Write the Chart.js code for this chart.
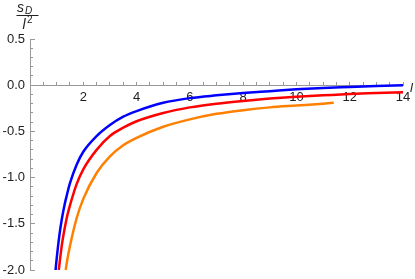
<!DOCTYPE html>
<html>
<head>
<meta charset="utf-8">
<script src="https://cdn.jsdelivr.net/npm/chart.js@4.4.1/dist/chart.umd.min.js"></script>
<style>
    body { margin: 0; background: #fff; overflow: hidden; }
    canvas { display: block; }
</style>
</head>
<body>
<canvas id="plot" width="415" height="279"></canvas>
<script>
    // curves: l on x, s_D / l^2 on y
    var lBlue = [0.96, 1.0, 1.1, 1.2, 1.3, 1.4, 1.5, 1.75, 2, 2.5, 3, 3.5, 4, 5, 6, 7, 8, 9, 10, 11, 12, 13, 14];
    var sBlue = [-2.0, -1.88, -1.63, -1.44, -1.29, -1.17, -1.06, -0.86, -0.72, -0.55, -0.43, -0.34, -0.28, -0.19, -0.14, -0.11, -0.085, -0.065, -0.045, -0.03, -0.02, -0.01, 0.0];

    var lRed = [1.08, 1.1, 1.2, 1.3, 1.4, 1.5, 1.75, 2, 2.5, 3, 3.5, 4, 5, 6, 7, 8, 9, 10, 11, 12, 13, 14];
    var sRed = [-2.0, -1.95, -1.72, -1.55, -1.41, -1.30, -1.07, -0.91, -0.70, -0.55, -0.46, -0.39, -0.30, -0.24, -0.20, -0.17, -0.145, -0.125, -0.11, -0.095, -0.085, -0.075];

    var lOrange = [1.34, 1.4, 1.5, 1.75, 2, 2.5, 3, 3.5, 4, 5, 6, 7, 8, 9, 10, 11, 11.4];
    var sOrange = [-2.0, -1.89, -1.74, -1.44, -1.23, -0.95, -0.77, -0.65, -0.57, -0.45, -0.37, -0.31, -0.27, -0.24, -0.22, -0.20, -0.19];

    var xRange = [0, 14];
    var yRange = [-2, 0.5];
    var xStep = 2, xMinorStep = 0.5;
    var yStep = 0.5, yMinorStep = 0.1;

    var axisGray = '#999';
    var textColor = '#222';
    var tickFont = { family: 'Liberation Sans', size: 13 };

    function pts(ls, ss) {
        return ls.map(function (l, i) { return { x: l, y: ss[i] }; });
    }

    function curve(label, ls, ss, color) {
        return {
            label: label,
            data: pts(ls, ss),
            borderColor: color,
            borderWidth: 2.5,
            pointRadius: 0,
            showLine: true,
            fill: false,
            cubicInterpolationMode: 'monotone'
        };
    }

    // keep tick-label padding from shrinking the plot area
    function noPad(s) {
        s.paddingTop = 0; s.paddingBottom = 0; s.paddingLeft = 0; s.paddingRight = 0;
    }

    // the fraction s_D / l^2 at the top and the italic l at the end of the x axis
    var axisLabels = {
        id: 'axisLabels',
        afterDraw: function (chart) {
            var ctx = chart.ctx;
            ctx.save();
            ctx.fillStyle = textColor;
            ctx.textBaseline = 'alphabetic';
            ctx.textAlign = 'left';
            ctx.font = 'italic 14px "Liberation Sans"';
            ctx.fillText('s', 17, 11.5);
            ctx.font = 'italic 10px "Liberation Sans"';
            ctx.fillText('D', 25, 13.5);
            ctx.strokeStyle = textColor;
            ctx.lineWidth = 1;
            ctx.beginPath();
            ctx.moveTo(16.5, 15.5);
            ctx.lineTo(38.5, 15.5);
            ctx.stroke();
            ctx.font = 'italic 14px "Liberation Sans"';
            ctx.fillText('l', 22.5, 29);
            ctx.font = '10px "Liberation Sans"';
            ctx.fillText('2', 27, 23);
            ctx.font = 'italic 13px "Liberation Sans"';
            ctx.fillText('l', chart.chartArea.right + 7, 91.5);
            ctx.restore();
        }
    };

    new Chart(document.getElementById('plot'), {
        type: 'scatter',
        data: {
            datasets: [
                curve('blue', lBlue, sBlue, 'rgb(0, 0, 255)'),
                curve('red', lRed, sRed, 'rgb(255, 0, 0)'),
                curve('orange', lOrange, sOrange, 'rgb(255, 128, 0)')
            ]
        },
        options: {
            responsive: false,
            animation: false,
            layout: { padding: { left: 0, right: 12, top: 39, bottom: 9 } },
            plugins: { legend: { display: false }, tooltip: { enabled: false } },
            scales: {
                x: {
                    type: 'linear', min: xRange[0], max: xRange[1], position: { y: 0 },
                    afterFit: function (s) { s.height = 0; noPad(s); },
                    grid: { drawOnChartArea: false, drawTicks: true, tickLength: -4, tickColor: axisGray },
                    border: { color: axisGray, width: 1 },
                    ticks: {
                        stepSize: xStep, padding: 8, color: textColor, font: tickFont,
                        maxRotation: 0, autoSkip: false,
                        callback: function (v) { return v === 0 ? '' : v; }
                    }
                },
                xMinor: {
                    type: 'linear', min: xRange[0], max: xRange[1], position: { y: 0 },
                    afterFit: function (s) { s.height = 0; noPad(s); },
                    grid: { drawOnChartArea: false, drawTicks: true, tickLength: -3, tickColor: axisGray },
                    border: { display: false },
                    ticks: { stepSize: xMinorStep, display: false, maxTicksLimit: 200 }
                },
                y: {
                    type: 'linear', min: yRange[0], max: yRange[1], position: 'left',
                    afterFit: function (s) { s.width = 30; noPad(s); },
                    grid: { drawOnChartArea: false, drawTicks: true, tickLength: -5, tickColor: axisGray },
                    border: { color: axisGray, width: 1 },
                    ticks: {
                        stepSize: yStep, padding: 10, color: textColor, font: tickFont,
                        callback: function (v) { return v.toFixed(1); }
                    }
                },
                yMinor: {
                    type: 'linear', min: yRange[0], max: yRange[1], position: { x: 0 },
                    afterFit: function (s) { s.width = 0; noPad(s); },
                    grid: { drawOnChartArea: false, drawTicks: true, tickLength: -3, tickColor: axisGray },
                    border: { display: false },
                    ticks: { stepSize: yMinorStep, display: false, maxTicksLimit: 200 }
                }
            }
        },
        plugins: [axisLabels]
    });
</script>
</body>
</html>
